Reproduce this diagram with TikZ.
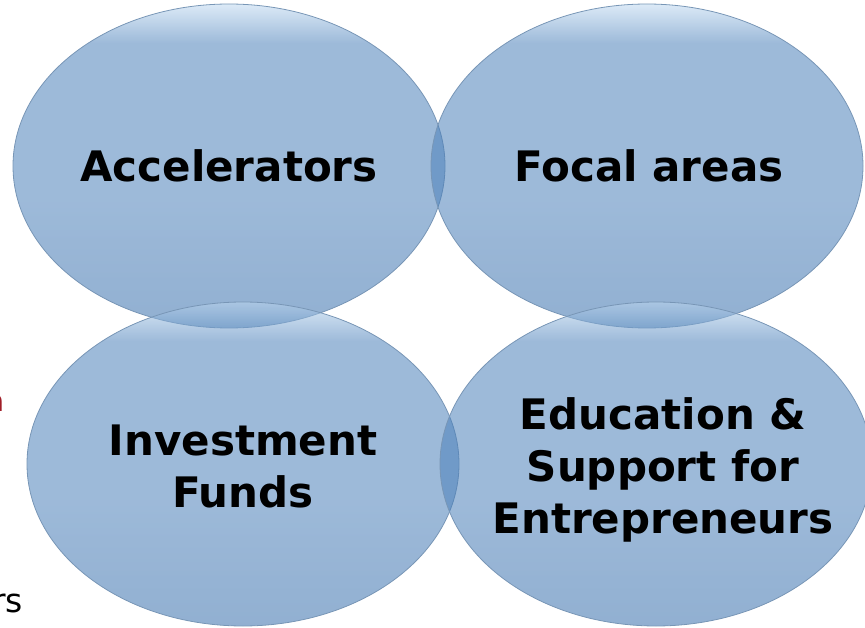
\documentclass[tikz,border=0pt]{standalone}
\usepackage{fontspec}
\setmainfont{DejaVu Sans}
\usepackage{tikz}
\usetikzlibrary{shapes.geometric}

\definecolor{bdark}{RGB}{52,108,170}
\definecolor{bmid}{RGB}{74,127,185}
\definecolor{blight}{RGB}{190,216,240}
\definecolor{bline}{RGB}{120,150,182}
\definecolor{inkred}{RGB}{160,30,40}
\pgfdeclareverticalshading{bubble}{100bp}{color(0bp)=(bdark); color(25bp)=(bdark); color(45bp)=(bmid); color(69bp)=(bmid); color(75bp)=(blight); color(100bp)=(blight)}

\begin{document}
\begin{tikzpicture}
        [x=1pt,y=-1pt,
         bubble/.style={ellipse, draw=bline, line width=0.8pt, shading=bubble, fill opacity=0.54,
                        minimum width=432pt, minimum height=324pt, inner sep=0pt},
         words/.style={align=center, inner sep=0pt, font=\bfseries\fontsize{42}{52}\selectfont},
         cutoff/.style={inner sep=0pt, anchor=base east}]
      \useasboundingbox (0,0) rectangle (865,628);
      \node[cutoff, text=inkred, font=\fontsize{30}{30}\selectfont] (redA) at (5,411) {a};
      \node[cutoff, font=\fontsize{33}{33}\selectfont] (rsTail) at (23,612) {rs};
      \node[bubble] (Acc) at (229,166) {};
      \node[bubble] (Focal) at (647,166) {};
      \node[bubble] (Funds) at (243,464) {};
      \node[bubble] (Edu) at (656,464) {};
      \node[words] (AccText) at (Acc.center) {Accelerators};
      \node[words] (FocalText) at ([xshift=2]Focal.center) {Focal areas};
      \node[words] (FundsText) at ([yshift=-2]Funds.center) {Investment\\Funds};
      \node[words] (EduText) at ([xshift=7,yshift=-6]Edu.center) {Education \&\\Support for\\Entrepreneurs};
\end{tikzpicture}
\end{document}
